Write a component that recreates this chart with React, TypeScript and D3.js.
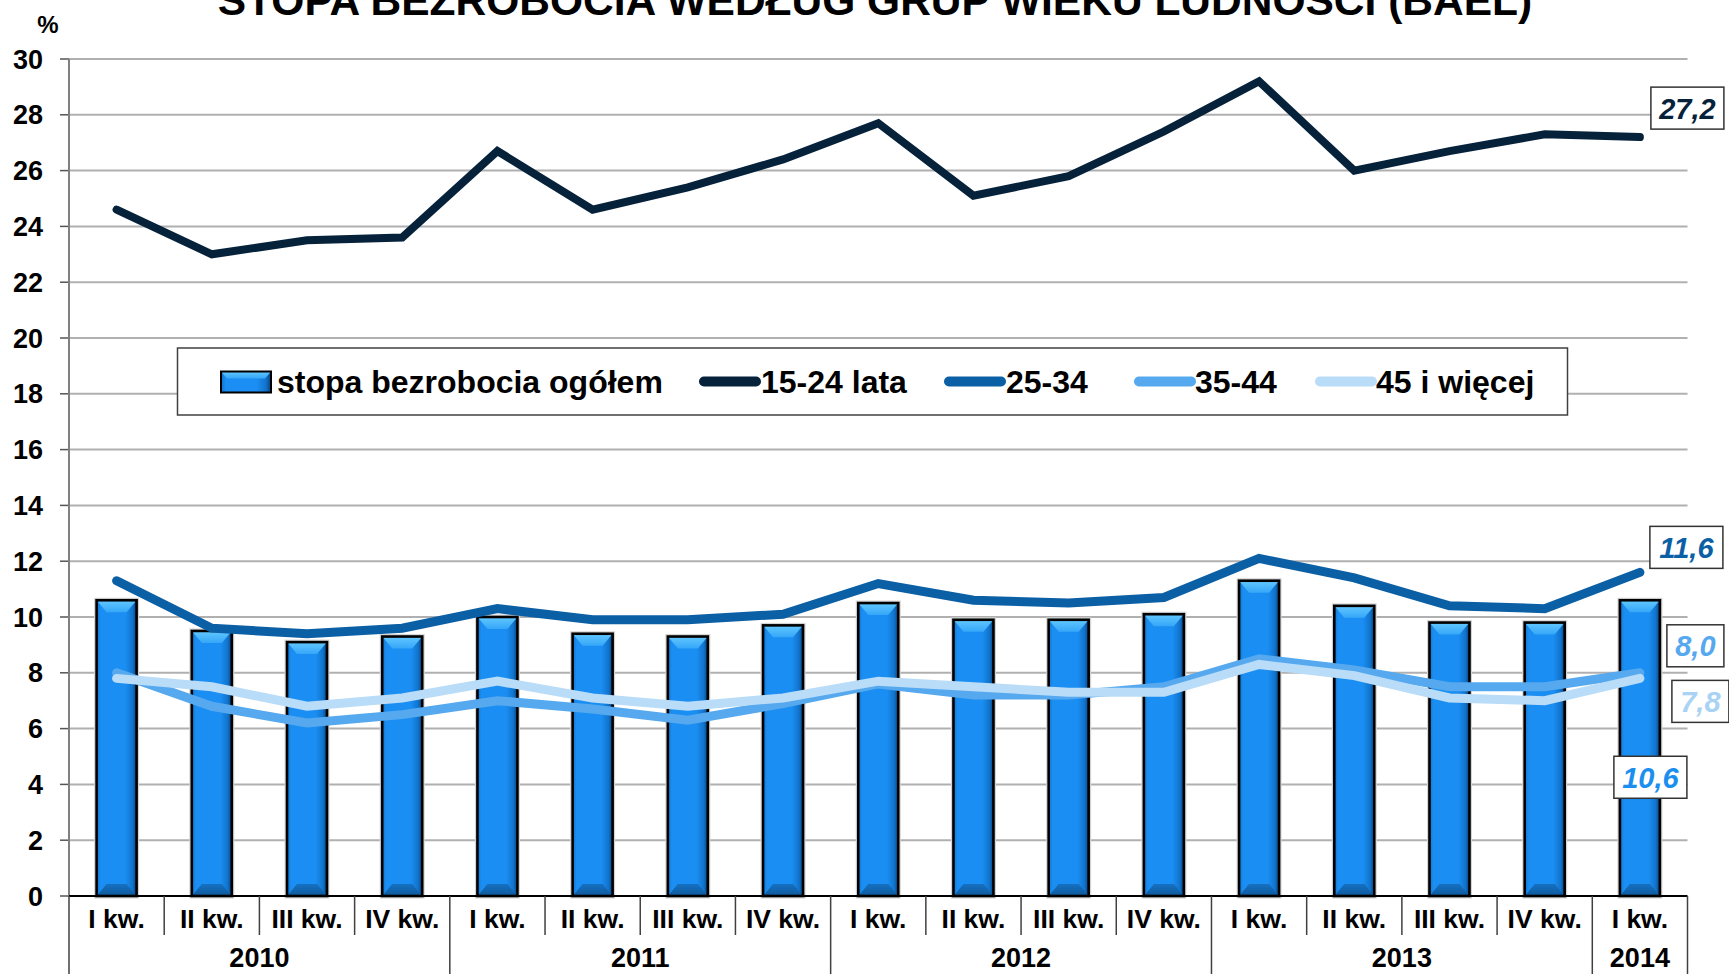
import React from 'react';
import * as d3 from 'd3';

// ---- DATA ----
const quarterLabels = ['I kw.', 'II kw.', 'III kw.', 'IV kw.', 'I kw.', 'II kw.', 'III kw.', 'IV kw.', 'I kw.', 'II kw.', 'III kw.', 'IV kw.', 'I kw.', 'II kw.', 'III kw.', 'IV kw.', 'I kw.'];
const yearLabels = ['2010', '2011', '2012', '2013', '2014'];
const yearQuarterCounts = [4, 4, 4, 4, 1];
const totalRate = [10.6, 9.5, 9.1, 9.3, 10.0, 9.4, 9.3, 9.7, 10.5, 9.9, 9.9, 10.1, 11.3, 10.4, 9.8, 9.8, 10.6];
const age15to24 = [24.6, 23.0, 23.5, 23.6, 26.7, 24.6, 25.4, 26.4, 27.7, 25.1, 25.8, 27.4, 29.2, 26.0, 26.7, 27.3, 27.2];
const age25to34 = [11.3, 9.6, 9.4, 9.6, 10.3, 9.9, 9.9, 10.1, 11.2, 10.6, 10.5, 10.7, 12.1, 11.4, 10.4, 10.3, 11.6];
const age35to44 = [8.0, 6.8, 6.2, 6.5, 7.0, 6.7, 6.3, 6.9, 7.6, 7.2, 7.2, 7.5, 8.5, 8.1, 7.5, 7.5, 8.0];
const age45plus = [7.8, 7.5, 6.8, 7.1, 7.7, 7.1, 6.8, 7.1, 7.7, 7.5, 7.3, 7.3, 8.3, 7.9, 7.1, 7.0, 7.8];
const yTicks = [0, 2, 4, 6, 8, 10, 12, 14, 16, 18, 20, 22, 24, 26, 28, 30];
const seriesNames = ['stopa bezrobocia ogółem', '15-24 lata', '25-34', '35-44', '45 i więcej'];
const titleText = 'STOPA BEZROBOCIA WEDŁUG GRUP WIEKU LUDNOŚCI (BAEL)';

// ---- STYLE ----
const W = 1729;
const H = 974;
const FONT = '"Liberation Sans", Arial, sans-serif';
const lineColors = ['#06223b', '#0b5fa5', '#56a9ee', '#b9dcf8'];
const lineWidths = [8, 9, 9, 9];
const labelColors = ['#06223b', '#0b5fa5', '#56a9ee', '#a9d3f5'];

const fmt = (v: number) => v.toFixed(1).replace('.', ',');

export default function App() {
  const left = 69;
  const right = 1687.5;
  const y0 = 896;
  const y30 = 59;
  const n = quarterLabels.length;
  const x = d3.scaleBand<number>().domain(d3.range(n)).range([left, right]).paddingInner(0).paddingOuter(0);
  const step = x.step();
  const cx = (i: number) => (x(i) as number) + step / 2;
  const y = d3.scaleLinear().domain([0, 30]).range([y0, y30]);
  const bw = 40;

  const lineGen = d3.line<number>().x((_, i) => cx(i)).y((v) => y(v));
  const lines = [age15to24, age25to34, age35to44, age45plus];

  const yearStarts: number[] = [];
  let acc = 0;
  yearQuarterCounts.forEach((c) => { yearStarts.push(acc); acc += c; });

  const bar = (bx: number, top: number, bottom: number, key: string | number) => {
    const bev = 10;
    const bevH = Math.min(12, (bottom - top) / 3);
    return (
      <g key={key}>
        <rect x={bx - 1.5} y={top - 1.5} width={bw + 3} height={bottom - top + 3} fill="none" stroke="#d4d4d4" strokeWidth={2} />
        <rect x={bx} y={top} width={bw} height={bottom - top} fill="url(#barGrad)" />
        <polygon points={`${bx},${top} ${bx + bw},${top} ${bx + bw - bev},${top + bevH} ${bx + bev},${top + bevH}`} fill="url(#barTop)" />
        <polygon points={`${bx},${bottom} ${bx + bw},${bottom} ${bx + bw - bev},${bottom - bevH} ${bx + bev},${bottom - bevH}`} fill="url(#barBottom)" />
        <rect x={bx} y={top} width={bw} height={bottom - top} fill="none" stroke="#000" strokeWidth={2.6} />
      </g>
    );
  };

  const lastIdx = n - 1;
  const endLabels = [
    { v: age15to24[lastIdx], color: labelColors[0], dx: 11, dy: -29 },
    { v: age25to34[lastIdx], color: labelColors[1], dx: 10, dy: -25 },
    { v: age35to44[lastIdx], color: labelColors[2], dx: 27, dy: -27 },
    { v: age45plus[lastIdx], color: labelColors[3], dx: 32, dy: 23 },
    { v: totalRate[lastIdx], color: '#1a8ff0', dx: -26, dy: 177 },
  ];

  const legendY = 381.5;
  const legendItems = [
    { sx: 221, tx: 277 },
    { sx: 704, tx: 761 },
    { sx: 949, tx: 1006 },
    { sx: 1139, tx: 1195 },
    { sx: 1320, tx: 1376 },
  ];

  return (
    <svg width={W} height={H} style={{ position: 'absolute', left: 0, top: 0, background: '#fff' }} fontFamily={FONT}>
      <defs>
        <linearGradient id="barGrad" x1="0" x2="1" y1="0" y2="0">
          <stop offset="0%" stopColor="#1175cc" />
          <stop offset="10%" stopColor="#1a8ef2" />
          <stop offset="72%" stopColor="#1a8ef2" />
          <stop offset="90%" stopColor="#1173cc" />
          <stop offset="100%" stopColor="#08407a" />
        </linearGradient>
        <linearGradient id="barTop" x1="0" x2="0" y1="0" y2="1">
          <stop offset="0%" stopColor="#62c8ff" />
          <stop offset="100%" stopColor="#35a6f8" />
        </linearGradient>
        <linearGradient id="barBottom" x1="0" x2="0" y1="0" y2="1">
          <stop offset="0%" stopColor="#1670c0" />
          <stop offset="100%" stopColor="#0d5a9e" />
        </linearGradient>
      </defs>
      <rect x={0} y={0} width={W} height={H} fill="#fff" />

      {/* title (cut at top edge as in the reference) */}
      <text x={875} y={15} textAnchor="middle" fontSize={42.5} fontWeight="bold" fill="#000">{titleText}</text>
      <text x={48} y={33} textAnchor="middle" fontSize={24} fontWeight="bold" fill="#000">%</text>

      {/* gridlines */}
      {yTicks.map((t) => (
        <g key={'g' + t}>
          {t > 0 && <line x1={left} x2={right} y1={y(t)} y2={y(t)} stroke="#b0b0b0" strokeWidth={2} />}
          <line x1={left - 9} x2={left} y1={y(t)} y2={y(t)} stroke="#555" strokeWidth={1.5} />
          <text x={43} y={y(t) + 9.5} textAnchor="end" fontSize={27} fontWeight="bold" fill="#000">{t}</text>
        </g>
      ))}
      <line x1={left} x2={left} y1={y30} y2={y0} stroke="#808080" strokeWidth={2} />

      {/* bars */}
      {totalRate.map((v, i) => bar(cx(i) - bw / 2, y(v), y(0), 'b' + i))}

      {/* x axis */}
      <line x1={left} x2={right} y1={y0} y2={y0} stroke="#000" strokeWidth={2} />
      {d3.range(n + 1).map((i) => {
        const xx = left + i * step;
        const isYear = yearStarts.includes(i) || i === n;
        return <line key={'s' + i} x1={xx} x2={xx} y1={y0} y2={isYear ? H : 935} stroke="#404040" strokeWidth={1.5} />;
      })}
      {quarterLabels.map((q, i) => (
        <text key={'q' + i} x={cx(i)} y={928} textAnchor="middle" fontSize={26.5} fontWeight="bold" fill="#000">{q}</text>
      ))}
      {yearLabels.map((yl, k) => {
        const s = yearStarts[k];
        const e = s + yearQuarterCounts[k];
        const mid = (left + s * step + left + e * step) / 2;
        return <text key={'y' + k} x={mid} y={967} textAnchor="middle" fontSize={27} fontWeight="bold" fill="#000">{yl}</text>;
      })}

      {/* lines */}
      {lines.map((data, k) => (
        <path key={'l' + k} d={lineGen(data) as string} fill="none" stroke={lineColors[k]} strokeWidth={lineWidths[k]} strokeLinecap="round" strokeLinejoin="miter" />
      ))}

      {/* end value labels */}
      {endLabels.map((l, k) => {
        const s = fmt(l.v);
        const tw = s.length === 4 ? 56 : 40;
        const bwid = tw + 17;
        const bh = 42;
        const bx = cx(lastIdx) + l.dx;
        const bcy = y(l.v) + l.dy;
        return (
          <g key={'e' + k}>
            <rect x={bx} y={bcy - bh / 2} width={bwid} height={bh} fill="#fff" stroke="#333" strokeWidth={1.5} />
            <text x={bx + bwid / 2} y={bcy + 10.5} textAnchor="middle" fontSize={29} fontWeight="bold" fontStyle="italic" fill={l.color}>{s}</text>
          </g>
        );
      })}

      {/* legend */}
      <rect x={177.5} y={348} width={1390} height={67} fill="#fff" stroke="#404040" strokeWidth={1.5} />
      {legendItems.map((it, k) => (
        <g key={'lg' + k}>
          {k === 0 ? (
            <g>
              <rect x={it.sx} y={legendY - 10} width={50} height={21} fill="url(#barGrad)" />
              <polygon points={`${it.sx},${legendY - 10} ${it.sx + 50},${legendY - 10} ${it.sx + 44},${legendY - 3} ${it.sx + 6},${legendY - 3}`} fill="url(#barTop)" />
              <rect x={it.sx} y={legendY - 10} width={50} height={21} fill="none" stroke="#000" strokeWidth={2} />
            </g>
          ) : (
            <line x1={it.sx} x2={it.sx + 52} y1={legendY} y2={legendY} stroke={lineColors[k - 1]} strokeWidth={10} strokeLinecap="round" />
          )}
          <text x={it.tx} y={legendY + 11} fontSize={32} fontWeight="bold" fill="#000">{seriesNames[k]}</text>
        </g>
      ))}
    </svg>
  );
}
